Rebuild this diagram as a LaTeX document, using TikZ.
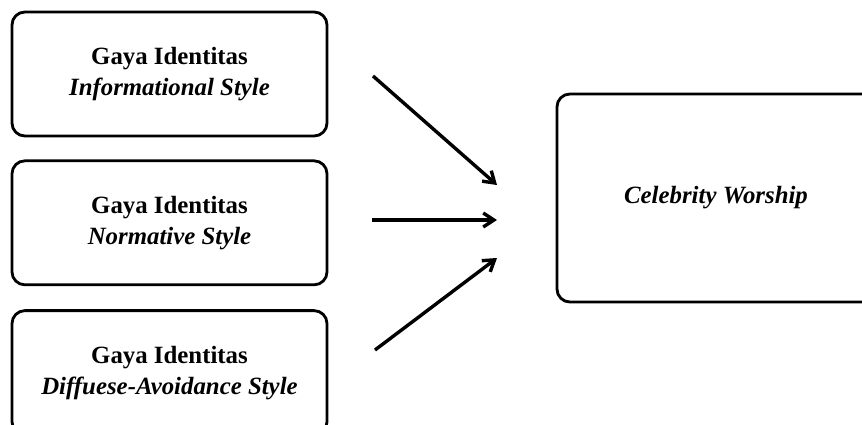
\documentclass[tikz,border=0pt]{standalone}
\usepackage{fontspec}
\setmainfont{Liberation Serif}
\usetikzlibrary{arrows.meta, positioning}

\begin{document}
\begin{tikzpicture}[
    x=0.03cm, y=-0.03cm,
    font=\fontsize{21.2pt}{26.5pt}\selectfont,
    line width=2.4pt,
    >={Straight Barb[length=3.2mm, width=4.2mm]},
    varbox/.style={rectangle, draw, rounded corners=11pt, minimum width=9.45cm, minimum height=3.72cm, align=center},
]
    \clip (0,0) rectangle (862,425);

    % identity styles
    \node[varbox] (info) at (169.5,74) {\textbf{Gaya Identitas}\\\textbf{\textit{Informational Style}}};
    \node[varbox, below=0.66cm of info] (norm) {\textbf{Gaya Identitas}\\\textbf{\textit{Normative Style}}};
    \node[varbox, below=0.69cm of norm] (diff) {\textbf{Gaya Identitas}\\\textbf{\textit{Diffuese-Avoidance Style}}};

    % outcome
    \node[varbox, minimum width=9.54cm, minimum height=6.24cm] (worship) at (716,198) {\textbf{\textit{Celebrity Worship}}};

    % arrow ends
    \coordinate (s1) at (373,76);
    \coordinate (t1) at (497,185);
    \coordinate (s2) at (372,220);
    \coordinate (t2) at (497,220);
    \coordinate (s3) at (375,350);
    \coordinate (t3) at (497,258);

    \draw[->, line width=2.9pt] (s1) -- (t1);
    \draw[->, line width=2.9pt] (s2) -- (t2);
    \draw[->, line width=2.9pt] (s3) -- (t3);
\end{tikzpicture}
\end{document}
